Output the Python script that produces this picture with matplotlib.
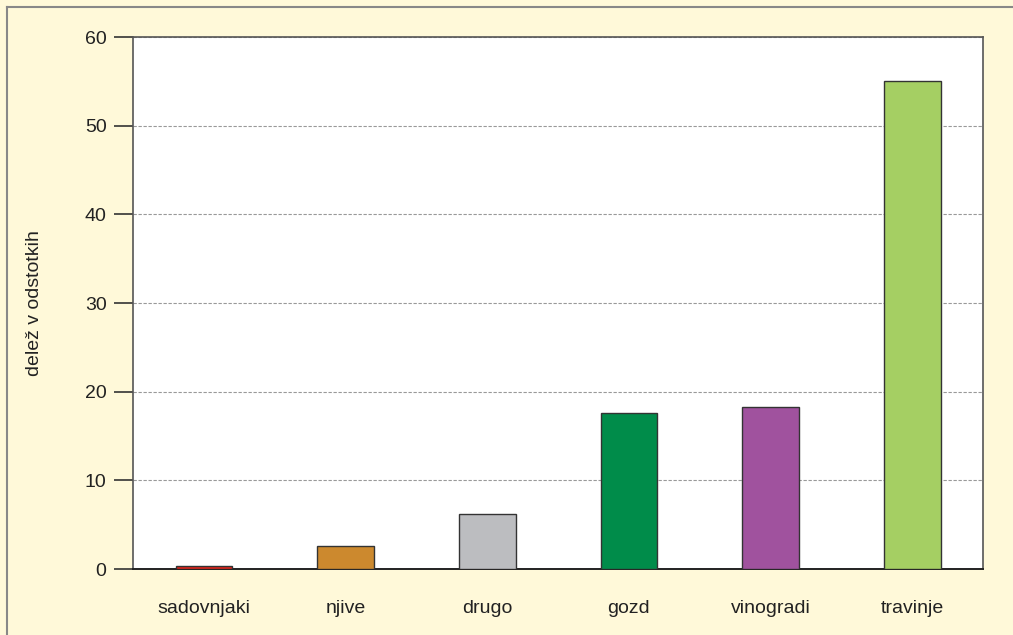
import matplotlib
matplotlib.use("Agg")
import matplotlib.pyplot as plt
from matplotlib.lines import Line2D

plt.rcParams["font.family"] = ["Liberation Sans", "DejaVu Sans"]

categories = ["sadovnjaki", "njive", "drugo", "gozd", "vinogradi", "travinje"]
values = [0.35, 2.6, 6.2, 17.6, 18.3, 55.0]
colors = ["#E2231A", "#CC892E", "#BCBDC0", "#008C4A", "#A0529E", "#A5CF63"]

bg = "#FFF9D9"
fig = plt.figure(figsize=(10.13, 6.35), dpi=100, facecolor=bg)
ax = fig.add_axes((133 / 1013, 1 - 569 / 635, 850 / 1013, 532 / 635))
ax.set_facecolor("white")

x = range(len(categories))
ax.bar(x, values, width=0.4, color=colors, edgecolor="#333333", linewidth=1.0, zorder=3)

ax.set_xlim(-0.5, len(categories) - 0.5)
ax.set_ylim(0, 60)
ax.set_yticks(range(0, 61, 10))
ax.set_xticks(list(x))
ax.set_xticklabels(categories)
ax.yaxis.grid(True, linestyle=(0, (3, 1.5)), color="#999999", linewidth=0.8, zorder=0)

for side in ["left", "top", "right"]:
    ax.spines[side].set_color("#555555")
    ax.spines[side].set_linewidth(1.2)
ax.spines["bottom"].set_color("#222222")
ax.spines["bottom"].set_linewidth(1.4)

ax.tick_params(axis="y", length=14, width=1.2, color="#333333", labelsize=14, pad=5,
               labelcolor="#222222")
ax.tick_params(axis="x", length=0, labelsize=14, pad=22, labelcolor="#222222")
ax.set_ylabel("delež v odstotkih", fontsize=14, color="#222222", labelpad=30)

# outer frame lines (top and left)
fig.add_artist(Line2D([7 / 1013, 1], [1 - 7 / 635, 1 - 7 / 635], color="#888888", lw=1.5))
fig.add_artist(Line2D([7 / 1013, 7 / 1013], [0, 1 - 7 / 635], color="#888888", lw=1.5))

fig.savefig("out.png", dpi=100, facecolor=bg)
